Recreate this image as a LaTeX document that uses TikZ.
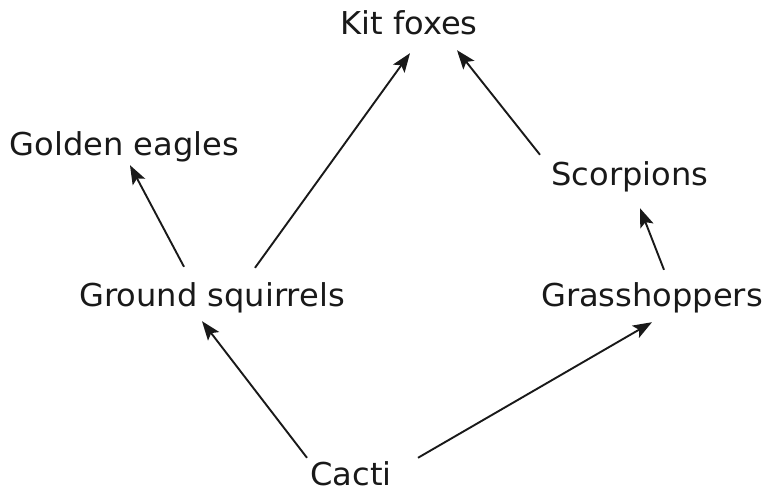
\documentclass[tikz,border=0pt]{standalone}
\usepackage{fontspec}
\setmainfont[FakeStretch=1.02]{DejaVu Sans}
\usetikzlibrary{arrows.meta}
\tikzset{
	species/.style={anchor=base, inner sep=0pt, text height=24pt, text depth=7pt, font=\fontsize{31.5}{36}\selectfont, text=black!90},
	eats/.style={-{Stealth[length=19pt,width=14pt,inset=4pt]}, line width=1.9pt, draw=black!90}
}
\begin{document}
\begin{tikzpicture}[x=1pt,y=1pt]
	\useasboundingbox (0,0) rectangle (769,493);
	\node[species] (kf) at (409,458) {Kit foxes};
	\node[species] (ge) at (124.5,337.5) {Golden eagles};
	\node[species] (sc) at (630,307) {Scorpions};
	\node[species] (gs) at (212,186) {Ground squirrels};
	\node[species] (gh) at (652,186) {Grasshoppers};
	\node[species] (ca) at (351,7) {Cacti};
	% who eats whom
	\draw[eats] ([xshift=-28pt,yshift=16pt]gs.north) -- ([xshift=5.5pt,yshift=-2.5pt]ge.south);
	\draw[eats] ([xshift=43pt,yshift=15pt]gs.north) -- ([xshift=1pt,yshift=-11pt]kf.south);
	\draw[eats] ([xshift=-90pt,yshift=7pt]sc.north) -- ([xshift=48pt,yshift=-8pt]kf.south);
	\draw[eats] ([xshift=12pt,yshift=13pt]gh.north) -- ([xshift=10pt,yshift=-15pt]sc.south);
	\draw[eats] ([xshift=-44pt,yshift=4pt]ca.north) -- ([xshift=-10pt,yshift=-7pt]gs.south);
	\draw[eats] ([xshift=67pt,yshift=4pt]ca.north) -- ([yshift=-8pt]gh.south);
\end{tikzpicture}
\end{document}
